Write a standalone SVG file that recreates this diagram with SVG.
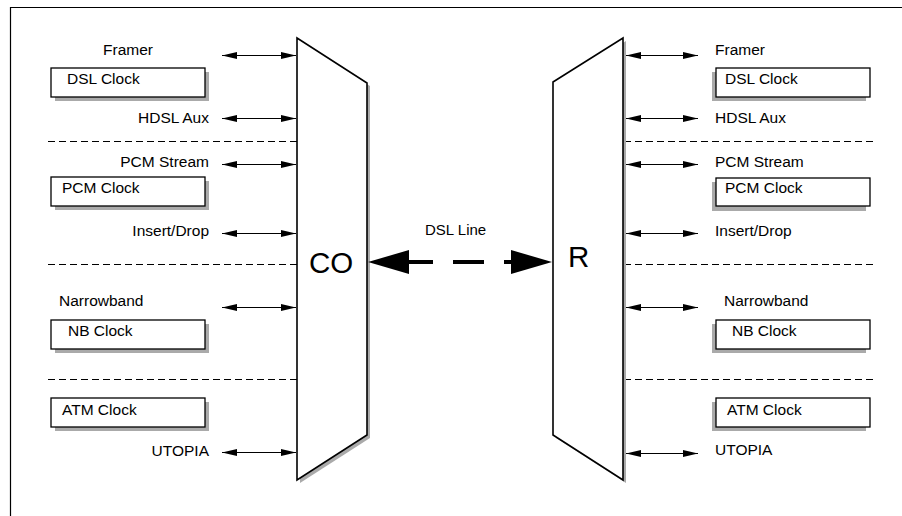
<svg xmlns="http://www.w3.org/2000/svg" width="902" height="516" viewBox="0 0 902 516">
<style>
text{font-family:"Liberation Sans",Arial,sans-serif;font-size:15.5px;fill:#000}
.end{text-anchor:end}
.big{font-size:29.5px}
.box{fill:#fff;stroke:#000;stroke-width:1.3}
.sh{fill:#aaa}
.dash{stroke:#000;stroke-width:1;stroke-dasharray:7,4;fill:none}
.arr{stroke:#000;stroke-width:1;fill:none;marker-start:url(#ah);marker-end:url(#ah)}
.trap{fill:#fff;stroke:#000;stroke-width:1.6;stroke-linejoin:miter}
</style>
<defs>
<marker id="ah" viewBox="0 0 15 7" refX="15" refY="3.5" markerWidth="15" markerHeight="7" markerUnits="userSpaceOnUse" orient="auto-start-reverse">
<path d="M0,0 L15,3.5 L0,7 z" fill="#000"/>
</marker>
</defs>
<rect width="902" height="516" fill="#fff"/>
<path d="M10.5,516 V7.5 H902" fill="none" stroke="#000" stroke-width="1.2"/>

<g id="separators">
<line class="dash" x1="48" y1="141.5" x2="297" y2="141.5"/>
<line class="dash" x1="48" y1="264.5" x2="297" y2="264.5"/>
<line class="dash" x1="48" y1="379.5" x2="297" y2="379.5"/>
<line class="dash" x1="624" y1="141.5" x2="874" y2="141.5"/>
<line class="dash" x1="624" y1="264.5" x2="874" y2="264.5"/>
<line class="dash" x1="624" y1="379.5" x2="874" y2="379.5"/>
</g>

<g id="CO">
<polygon class="sh" points="300,41 370,86 370,438 300,483"/>
<polygon class="trap" points="297,38 367,83 367,435 297,480"/>
<text class="big" x="309" y="273">CO</text>
</g>

<g id="R">
<polygon class="sh" points="556,85 626,41 626,483 556,438"/>
<polygon class="trap" points="553,82 623,38 623,480 553,435"/>
<text class="big" x="568" y="267">R</text>
</g>

<g id="left-labels">
<text x="103" y="55">Framer</text>
<text class="end" x="209" y="123">HDSL Aux</text>
<text class="end" x="209" y="167">PCM Stream</text>
<text class="end" x="209" y="236">Insert/Drop</text>
<text x="59" y="306">Narrowband</text>
<text class="end" x="209" y="456">UTOPIA</text>
</g>

<g id="left-dsl-clock">
<rect class="sh" x="55" y="72" width="154" height="29"/>
<rect class="box" x="51" y="68" width="154" height="29"/>
<text x="67" y="84">DSL Clock</text>
</g>
<g id="left-pcm-clock">
<rect class="sh" x="55" y="181" width="154" height="29"/>
<rect class="box" x="51" y="177" width="154" height="29"/>
<text x="62" y="193">PCM Clock</text>
</g>
<g id="left-nb-clock">
<rect class="sh" x="55" y="324" width="154" height="29"/>
<rect class="box" x="51" y="320" width="154" height="29"/>
<text x="68" y="336">NB Clock</text>
</g>
<g id="left-atm-clock">
<rect class="sh" x="55" y="402" width="154" height="29"/>
<rect class="box" x="51" y="398" width="154" height="29"/>
<text x="62" y="415">ATM Clock</text>
</g>

<g id="right-labels">
<text x="715" y="55">Framer</text>
<text x="715" y="123">HDSL Aux</text>
<text x="715" y="167">PCM Stream</text>
<text x="715" y="236">Insert/Drop</text>
<text x="724" y="306">Narrowband</text>
<text x="715" y="455">UTOPIA</text>
</g>

<g id="right-dsl-clock">
<rect class="sh" x="712" y="72" width="154" height="29"/>
<rect class="box" x="716" y="68" width="154" height="29"/>
<text x="725" y="84">DSL Clock</text>
</g>
<g id="right-pcm-clock">
<rect class="sh" x="712" y="182" width="154" height="29"/>
<rect class="box" x="716" y="178" width="154" height="28"/>
<text x="725" y="193">PCM Clock</text>
</g>
<g id="right-nb-clock">
<rect class="sh" x="712" y="324" width="154" height="29"/>
<rect class="box" x="716" y="320" width="154" height="29"/>
<text x="732" y="336">NB Clock</text>
</g>
<g id="right-atm-clock">
<rect class="sh" x="712" y="402" width="154" height="29"/>
<rect class="box" x="716" y="398" width="154" height="29"/>
<text x="727" y="415">ATM Clock</text>
</g>

<g id="connectors">
<line class="arr" x1="222" y1="55.5" x2="296" y2="55.5"/>
<line class="arr" x1="222" y1="118.5" x2="296" y2="118.5"/>
<line class="arr" x1="222" y1="164.5" x2="296" y2="164.5"/>
<line class="arr" x1="222" y1="233.5" x2="296" y2="233.5"/>
<line class="arr" x1="222" y1="307.5" x2="296" y2="307.5"/>
<line class="arr" x1="222" y1="452.5" x2="296" y2="452.5"/>
<line class="arr" x1="626" y1="55.5" x2="698" y2="55.5"/>
<line class="arr" x1="626" y1="118.5" x2="698" y2="118.5"/>
<line class="arr" x1="626" y1="164.5" x2="698" y2="164.5"/>
<line class="arr" x1="626" y1="233.5" x2="698" y2="233.5"/>
<line class="arr" x1="626" y1="307.5" x2="698" y2="307.5"/>
<line class="arr" x1="626" y1="453.5" x2="698" y2="453.5"/>
<g id="dsl-line">
<polygon points="368,262 409,250 409,274" fill="#000"/>
<polygon points="552,262 511,250 511,274" fill="#000"/>
<line x1="405" y1="262" x2="433" y2="262" stroke="#000" stroke-width="4"/>
<line x1="453" y1="262" x2="484" y2="262" stroke="#000" stroke-width="4"/>
<line x1="504" y1="262" x2="514" y2="262" stroke="#000" stroke-width="4"/>
<text x="425" y="235" style="font-size:15px">DSL Line</text>
</g>
</g>
</svg>
